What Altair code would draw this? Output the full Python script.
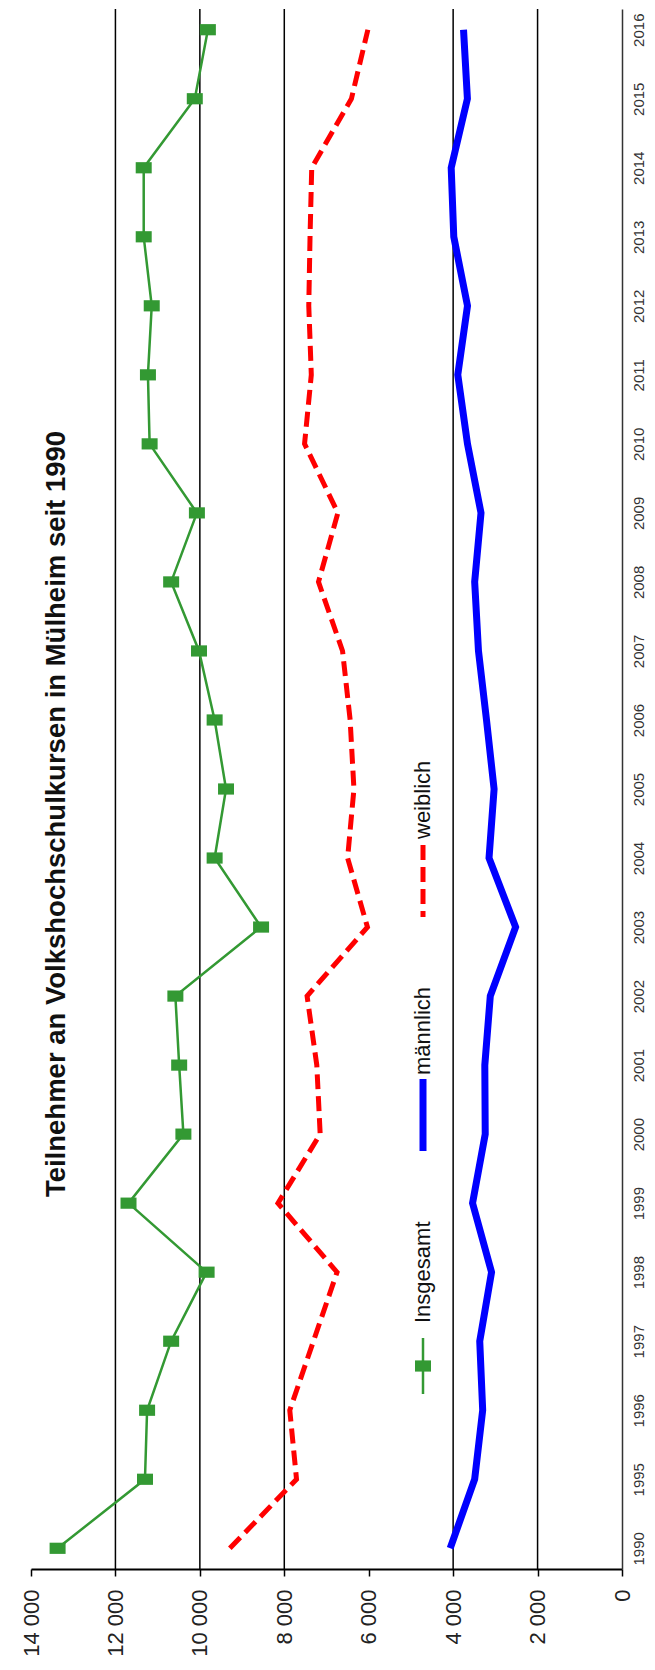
import altair as alt
import pandas as pd

years = ["1990", "1995", "1996", "1997", "1998", "1999", "2000", "2001", "2002",
         "2003", "2004", "2005", "2006", "2007", "2008", "2009", "2010", "2011",
         "2012", "2013", "2014", "2015", "2016"]
insgesamt = [13370, 11300, 11250, 10680, 9840, 11690, 10390, 10490, 10580,
             8550, 9650, 9380, 9650, 10020, 10680, 10070, 11190, 11230,
             11140, 11330, 11330, 10120, 9810]
weiblich = [9290, 7710, 7870, 7310, 6750, 8150, 7150, 7230, 7460,
            6030, 6500, 6350, 6440, 6620, 7190, 6730, 7520, 7360,
            7420, 7390, 7350, 6410, 6020]
maennlich = [4070, 3490, 3300, 3370, 3090, 3540, 3240, 3250, 3120,
             2520, 3150, 3030, 3210, 3400, 3490, 3340, 3660, 3890,
             3660, 3985, 4046, 3662, 3754]
value_ticks = [0, 2000, 4000, 6000, 8000, 10000, 12000, 14000]
grid_values = [2000, 4000, 8000, 10000, 12000]

title_text = "Teilnehmer an Volkshochschulkursen in Mülheim seit 1990"
legend_labels = ["Insgesamt", "männlich", "weiblich"]

df = pd.DataFrame({"year": years, "insgesamt": insgesamt,
                   "weiblich": weiblich, "maennlich": maennlich})
grid_df = pd.DataFrame({"v": grid_values})

FONT = "Liberation Sans"
GREEN = "#339933"
RED = "#ff0000"
BLUE = "#0000ff"
RECT = "M-1,-0.7H1V0.7H-1Z"

xscale = alt.Scale(domain=[0, 14000], reverse=True)
xaxis = alt.Axis(values=value_ticks, grid=False, labelAngle=270, labelAlign="right",
                 labelBaseline="middle", labelFontSize=22, labelColor="#222222",
                 labelFont=FONT, labelPadding=13,
                 labelExpr="replace(format(datum.value, ','), ',', ' ')",
                 tickColor="#000000", tickSize=7, tickWidth=1.5,
                 domainColor="#000000", domainWidth=2, title="")
yscale = alt.Scale(type="point", padding=0.3)
yaxis = alt.Axis(orient="right", labelAngle=270, labelAlign="center", labelBaseline="top",
                 labelFontSize=15, labelColor="#333333", labelFont=FONT, labelPadding=9,
                 ticks=False, domainColor="#333333", domainWidth=1.5, grid=False, title="")


def X(field):
    return alt.X(f"{field}:Q", scale=xscale, axis=xaxis)


Y = alt.Y("year:O", sort="descending", scale=yscale, axis=yaxis)

base = alt.Chart(df)

grid = alt.Chart(grid_df).mark_rule(color="#000000", strokeWidth=1.5).encode(x=X("v"))

line_total = base.mark_line(color=GREEN, strokeWidth=2.5).encode(x=X("insgesamt"), y=Y, order="year:O")
pts_total = base.mark_point(shape=RECT, filled=True, color=GREEN, size=256, opacity=1).encode(
    x=X("insgesamt"), y=Y)
line_m = base.mark_line(color=BLUE, strokeWidth=7).encode(x=X("maennlich"), y=Y, order="year:O")
line_w = base.mark_line(color=RED, strokeWidth=5, strokeDash=[15, 7]).encode(
    x=X("weiblich"), y=Y, order="year:O")

# title (rotated like the whole chart)
title = alt.Chart(pd.DataFrame({"t": [title_text]})).mark_text(
    angle=270, align="center", baseline="alphabetic", fontSize=27.5, fontWeight="bold",
    font=FONT, color="#111111").encode(text="t:N", x=alt.value(34), y=alt.value(805))

# legend built from marks (rotated)
LX = 392
one = pd.DataFrame({"a": [0]})
leg_g_line = alt.Chart(one).mark_rule(color=GREEN, strokeWidth=2.5).encode(
    x=alt.value(LX), y=alt.value(1329), y2=alt.value(1385))
leg_g_pt = alt.Chart(one).mark_point(shape=RECT, filled=True, color=GREEN, size=256, opacity=1).encode(
    x=alt.value(LX), y=alt.value(1357))
leg_m = alt.Chart(one).mark_rule(color=BLUE, strokeWidth=7).encode(
    x=alt.value(LX), y=alt.value(1070), y2=alt.value(1142))
leg_w = alt.Chart(one).mark_rule(color=RED, strokeWidth=5, strokeDash=[15, 7]).encode(
    x=alt.value(LX), y=alt.value(836), y2=alt.value(908))

leg_text = []
for lab, yy in zip(legend_labels, [1314, 1066, 830]):
    leg_text.append(alt.Chart(pd.DataFrame({"t": [lab]})).mark_text(
        angle=270, align="left", baseline="middle", fontSize=22, font=FONT,
        color="#111111").encode(text="t:N", x=alt.value(LX), y=alt.value(yy)))

chart = alt.layer(grid, line_w, line_m, line_total, pts_total, title,
                  leg_g_line, leg_g_pt, leg_m, leg_w, *leg_text).properties(
    width=591, height=1560, background="#ffffff",
    padding={"left": 12, "top": 0, "right": 0, "bottom": 0}
).configure_view(stroke="transparent", strokeWidth=0)

chart.save("out.html", embed_options={"renderer": "svg", "actions": False})
